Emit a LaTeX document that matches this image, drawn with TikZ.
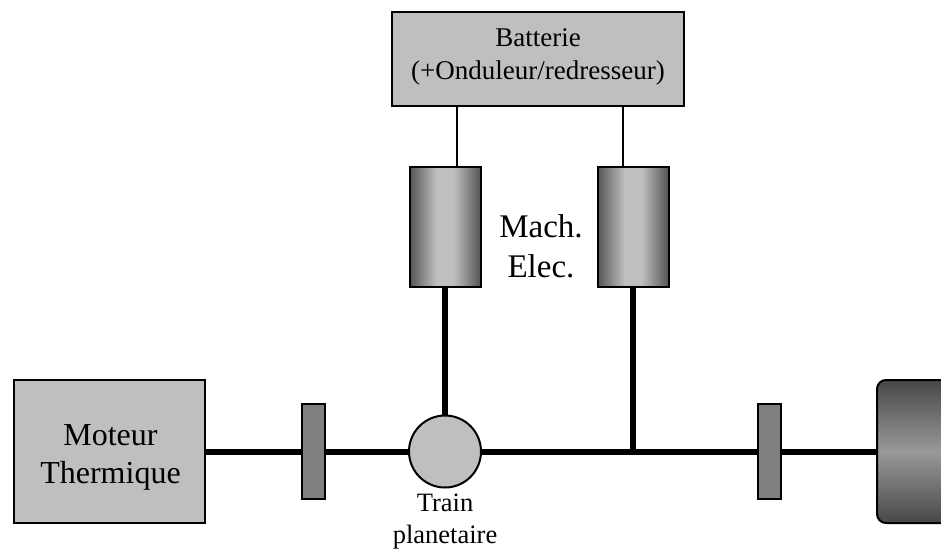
\documentclass[tikz,border=0pt]{standalone}
\usepackage{fontspec}
\setmainfont{Liberation Serif}
\usetikzlibrary{calc}
\definecolor{boxgray}{gray}{0.75}
\definecolor{clutchgray}{gray}{0.5}
\definecolor{machdark}{gray}{0.33}
\definecolor{wheeldark}{gray}{0.28}
\definecolor{wheellight}{gray}{0.6}
\pgfdeclarehorizontalshading{machshade}{100bp}{color(0bp)=(machdark); color(25bp)=(machdark); color(44bp)=(boxgray); color(56bp)=(boxgray); color(75bp)=(machdark); color(100bp)=(machdark)}
\tikzset{
  x=1pt,y=-1pt,
  boxnode/.style={draw=black,line width=2pt,fill=boxgray,inner sep=0pt,align=center,minimum width=#1},
  machine/.style={draw=black,line width=2pt,inner sep=0pt,minimum width=71pt,minimum height=120pt,shading=machshade},
  clutch/.style={draw=black,line width=2pt,fill=clutchgray,inner sep=0pt,minimum width=23pt,minimum height=95pt},
  thinwire/.style={line width=1.3pt,black},
  shaft/.style={line width=6pt,black},
  lab/.style={inner sep=0pt,align=center},
}
\begin{document}
\begin{tikzpicture}
\useasboundingbox (0,0) rectangle (941,552);
\node[boxnode=292pt,minimum height=94pt] (batt) at (537.5,58.5) {};
\node[lab,font=\fontsize{27}{33}\selectfont] (batttext) at (538,57) {Batterie\\(+Onduleur/redresseur)};
\node[machine] (m1) at (445,226.5) {};
\node[machine] (m2) at (633,226.5) {};
\node[lab,font=\fontsize{33}{40}\selectfont] (machtext) at (541,246) {Mach.\\Elec.};
\node[boxnode=191pt,minimum height=143pt] (mot) at (109,451.5) {};
\node[lab,font=\fontsize{32}{37.5}\selectfont] (mottext) at (110.5,457.5) {Moteur\\Thermique};
\node[clutch] (c1) at (313,451.5) {};
\node[clutch] (c2) at (769,451.5) {};
\node[circle,draw=black,line width=2pt,fill=boxgray,minimum size=72pt,inner sep=0pt] (pl) at (445,451.5) {};
\node[lab,font=\fontsize{26.5}{32}\selectfont] (pltext) at (445,522) {Train\\planetaire};
\begin{scope}
\clip (860,370) rectangle (941,535);
\node[draw=black,line width=2pt,rounded corners=9pt,inner sep=0pt,minimum width=110pt,minimum height=143pt,
      top color=wheeldark,bottom color=wheeldark,middle color=wheellight] (wh) at (932,451.5) {};
\end{scope}
\coordinate (t1) at (457,166);
\coordinate (t2) at (623,166);
\coordinate (j) at (633,451.5);
\draw[thinwire] (t1 |- batt.south) -- (t1 |- m1.north);
\draw[thinwire] (t2 |- batt.south) -- (t2 |- m2.north);
\draw[shaft] (m1.south) -- (pl.north);
\draw[shaft] ($(m2.south)+(0,-2)$) -- (j);
\draw[shaft] (mot.east) -- (c1.west);
\draw[shaft] (c1.east) -- (pl.west);
\draw[shaft] (pl.east) -- (c2.west);
\draw[shaft] (c2.east) -- (wh.west);
\end{tikzpicture}
\end{document}
